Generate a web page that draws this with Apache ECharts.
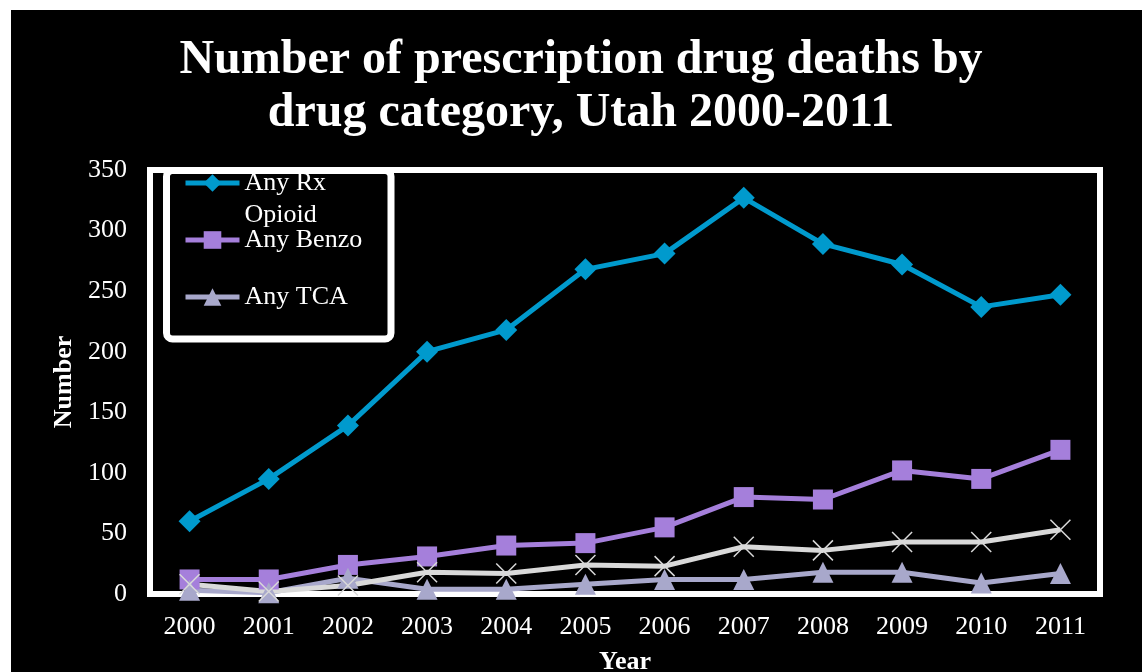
<!DOCTYPE html>
<html><head><meta charset="utf-8">
<script src="https://cdn.jsdelivr.net/npm/echarts@6/dist/echarts.min.js"></script>
<style>
html,body{margin:0;padding:0;background:#fff;width:1142px;height:672px;overflow:hidden}
#c{position:absolute;left:11px;top:10px;width:1131px;height:662px;background:#000}
</style></head><body><div id="c"></div>
<script>
const years = ['2000','2001','2002','2003','2004','2005','2006','2007','2008','2009','2010','2011'];
const opioid = [60, 95, 139, 200, 218, 268, 281, 327, 289, 272, 237, 247];
const benzo  = [12, 12, 24, 31, 40, 42, 55, 80, 78, 102, 95, 119];
const tca    = [3, 1, 13, 4, 4, 8, 12, 12, 18, 18, 9, 17];
const other  = [8, 2, 7, 18, 17, 24, 23, 39, 36, 43, 43, 53];
const yMin = 0, yMax = 350, yStep = 50;

const FONT = 'Liberation Serif';
const chart = echarts.init(document.getElementById('c'));

function leg(name, top) {
  return {
    show: true, data: [name], left: 172, top: top, orient: 'vertical', padding: 0,
    itemWidth: 54, itemHeight: 22, itemGap: 0, selectedMode: false,
    formatter: n => n === 'Any Rx Opioid' ? ' \nAny Rx\nOpioid' : n,
    textStyle: {color: '#fff', fontFamily: FONT, fontSize: 26, lineHeight: 32},
    lineStyle: {width: 5}
  };
}

chart.setOption({
  animation: false,
  backgroundColor: '#000',
  title: {
    text: 'Number of prescription drug deaths by\ndrug category, Utah 2000-2011',
    left: 570, textAlign: 'center', top: 24, padding: 0,
    textStyle: {color: '#fff', fontFamily: FONT, fontSize: 48, fontWeight: 'bold', lineHeight: 53}
  },
  graphic: {elements: [{
    type: 'rect', z: 3,
    shape: {x: 155.5, y: 160.5, width: 224.5, height: 168.5, r: 6},
    style: {fill: '#000', stroke: '#fff', lineWidth: 7}
  }]},
  legend: [
    leg('Any Rx Opioid', 125),
    leg('Any Benzo', 214),
    leg('Any TCA', 271)
  ],
  grid: {left: 139, right: 42, top: 160, bottom: 78, containLabel: false, outerBoundsMode: 'none',
         show: true, borderColor: '#fff', borderWidth: 6, backgroundColor: 'transparent'},
  xAxis: {
    type: 'category', data: years, boundaryGap: true,
    name: 'Year', nameLocation: 'middle', nameGap: 55,
    nameTextStyle: {color: '#fff', fontFamily: FONT, fontSize: 26, fontWeight: 'bold'},
    axisLine: {show: false}, axisTick: {show: false},
    axisLabel: {color: '#fff', fontFamily: FONT, fontSize: 26, margin: 20, interval: 0}
  },
  yAxis: {
    type: 'value', min: yMin, max: yMax, interval: yStep,
    name: 'Number', nameLocation: 'middle', nameGap: 68,
    nameTextStyle: {color: '#fff', fontFamily: FONT, fontSize: 26, fontWeight: 'bold'},
    axisLine: {show: false}, axisTick: {show: false}, splitLine: {show: false},
    axisLabel: {color: '#fff', fontFamily: FONT, fontSize: 26, margin: 23}
  },
  series: [
    {name: 'Any Rx Opioid', type: 'line', data: opioid, symbol: 'diamond', symbolSize: 22,
     itemStyle: {color: '#009acd'}, lineStyle: {color: '#009acd', width: 5}, emphasis: {disabled: true}},
    {name: 'Any Benzo', type: 'line', data: benzo, symbol: 'rect', symbolSize: 20,
     itemStyle: {color: '#a57fdb'}, lineStyle: {color: '#a57fdb', width: 5}, emphasis: {disabled: true}},
    {name: 'Any TCA', type: 'line', data: tca, symbol: 'triangle', symbolSize: 21,
     itemStyle: {color: '#a8a8cb'}, lineStyle: {color: '#a8a8cb', width: 5}, emphasis: {disabled: true}},
    {name: 'Other', type: 'line', data: other, symbol: 'path://M0,0L10,10M10,0L0,10', symbolSize: 20,
     itemStyle: {color: '#d9d9d9', borderColor: '#d9d9d9', borderWidth: 1.5},
     lineStyle: {color: '#d9d9d9', width: 5}, emphasis: {disabled: true}}
  ]
});
</script></body></html>
